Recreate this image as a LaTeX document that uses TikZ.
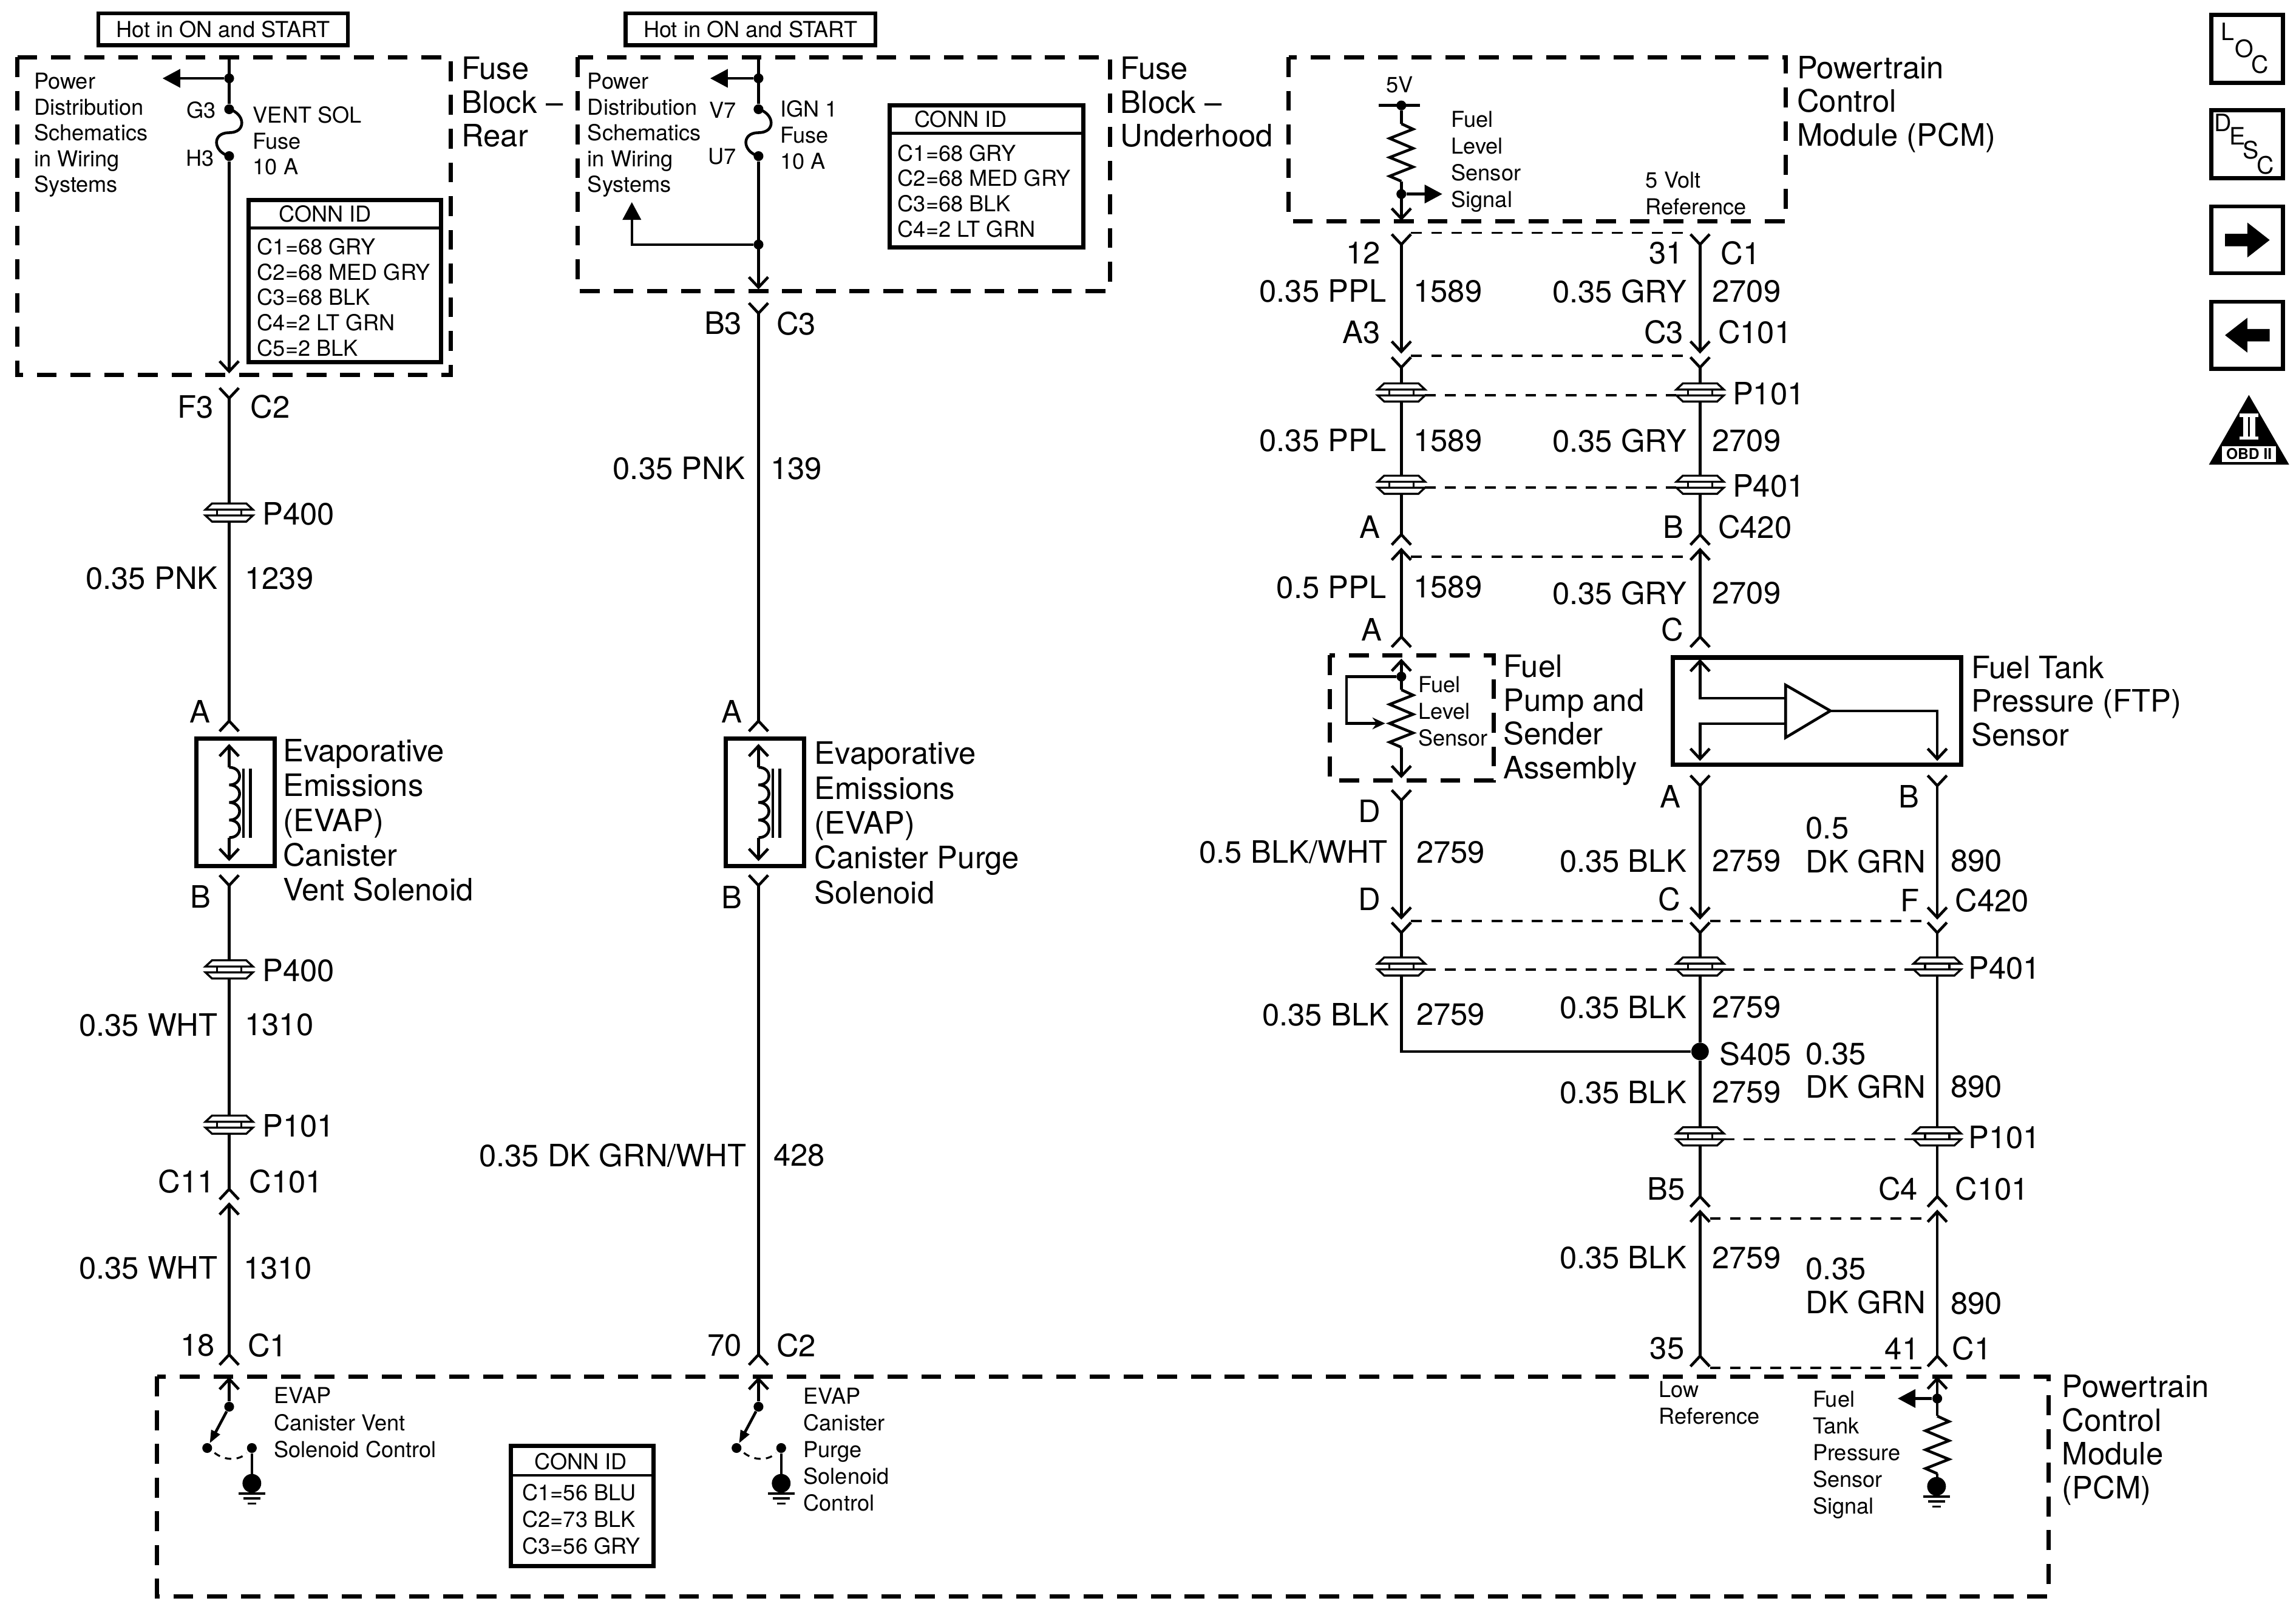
\documentclass[tikz,border=0pt]{standalone}
\usepackage{fontspec}
\setmainfont{TeX Gyre Heros}
\usetikzlibrary{arrows.meta}
\tikzset{
    barb/.tip={Straight Barb[length=4.8pt,width=9pt]},
    sock/.tip={Straight Barb[length=4.8pt,width=9pt,reversed]},
    head/.tip={Triangle[length=8.3pt,width=8.5pt]},
    wire/.style={line width=1.3pt},
    hvy/.style={line width=2pt},
    dashbox/.style={line width=2pt,dash pattern=on 9.3pt off 6.5pt},
    link/.style={line width=1pt,dash pattern=on 5.1pt off 4.3pt},
    dot/.style={circle,fill=black,inner sep=0pt,minimum size=4.6pt},
    txtbig/.style={font=\fontsize{14.45}{16.3}\selectfont,inner sep=0pt,align=left},
    txtsmall/.style={font=\fontsize{10.3}{12.1}\selectfont,inner sep=0pt,align=left},
    lbl/.style={txtbig,anchor=east,yshift=-0.6pt},
    lbr/.style={txtbig,anchor=west,yshift=-0.6pt},
    blk/.style={txtbig,anchor=north west},
    blkb/.style={blk,font=\fontsize{14.45}{15.8}\selectfont},
    sml/.style={txtsmall,anchor=north west},
    smlb/.style={sml,font=\fontsize{10.3}{12.55}\selectfont},
    conn/.style={sml,font=\fontsize{10.3}{11.85}\selectfont},
    letter/.style={inner sep=0pt,font=\fontsize{11.2}{12}\selectfont},
    hotbox/.style={txtsmall,draw,line width=1.8pt,minimum width=117pt,minimum height=15pt},
    splice/.pic={
        \draw[line width=0.95pt] (-11.7,-6.2) -- (11.7,-6.2) -- (16.2,-2) -- (-16.2,-2) -- cycle;
        \draw[line width=0.95pt] (-11.7,6.2) -- (11.7,6.2) -- (16.2,2) -- (-16.2,2) -- cycle;
        \draw[line width=0.95pt] (-8.3,-2) -- (-8.3,2) (8.3,-2) -- (8.3,2);
        \coordinate (-top) at (0,-6.2);
        \coordinate (-bot) at (0,6.2);
        \coordinate (-l) at (-16.2,2);
        \coordinate (-r) at (16.2,2);
    },
    fuse/.pic={
        \node[dot] (-top) at (0,0) {};
        \node[dot] (-bot) at (0,32) {};
        \draw[wire] (0,0) .. controls (11,3) and (12,16) .. (0,16) .. controls (-12,16) and (-11,29) .. (0,32);
    },
    zig/.pic={
        \draw[wire] (0,0) -- (8,3.7) -- (-8,10) -- (8,16.8) -- (-8,23) -- (8,29.5) -- (-8,35.8) -- (0,39.3);
        \coordinate (-top) at (0,0);
        \coordinate (-bot) at (0,39.3);
    },
    coil/.pic={
        \draw[wire,barb-] (0,-16) -- (0,0);
        \draw[wire] (0,0) .. controls (9.5,0) and (9.5,12) .. (0,12) .. controls (9.5,12) and (9.5,24) .. (0,24)
            .. controls (9.5,24) and (9.5,36) .. (0,36) .. controls (9.5,36) and (9.5,48) .. (0,48);
        \draw[wire,-barb] (0,48) -- (0,64);
        \draw[wire] (9.8,0.8) -- (9.8,48) (14.5,0.8) -- (14.5,48);
    },
    gnd/.pic={
        \fill (0,0) ellipse[x radius=6.4,y radius=6.4];
        \draw[line width=1pt] (-9,7) -- (9,7) (-5.7,10.3) -- (5.7,10.3) (-2.8,13.8) -- (2.8,13.8);
    },
    swgnd/.pic={
        \node[dot] (-top) at (0,0) {};
        \node[dot] (-off) at (-15,28.2) {};
        \node[dot] (-on) at (15.5,28.2) {};
        \draw[wire,-{Triangle[length=6pt,width=4.4pt]}] (-top) -- (-off);
        \draw[line width=0.9pt,dash pattern=on 3pt off 2.5pt] (-10,31.5) .. controls (-3,37) and (7,37) .. (12,31.5);
        \draw[wire] (-on) -- (15.5,46);
        \pic at (15.5,52.3) {gnd};
    },
}
\begin{document}
\begin{tikzpicture}[x=0.02412cm,y=-0.02412cm]
    \def\xa{156.5}
    \def\xb{518}
    \def\xc{957}
    \def\xd{1161}
    \def\xe{1323}
    \useasboundingbox (0,0) rectangle (1568,1104.5);

% ձախ բլոկ
    \node[hotbox] (hotrear) at (152.3,20) {Hot in ON and START};
    \draw[dashbox] (12,39) rectangle (308,256);
    \coordinate (wa1) at (\xa,39);
    \coordinate (wa2) at (\xa,255);
    \node[dot] (ja) at (\xa,53.5) {};
    \coordinate (pwa) at (111,53.5);
    \pic (fa) at (\xa,74.6) {fuse};
    \draw[wire] (wa1) -- (fa-top);
    \draw[wire,-barb] (fa-bot) -- (wa2);
    \draw[wire,-head] (ja) -- (pwa);
    \node[sml] (tpwra) at (23,49.5) {Power\\Distribution\\Schematics\\in Wiring\\Systems};
    \node[txtsmall,anchor=east] (tg3) at (147.6,75) {G3};
    \node[txtsmall,anchor=east] (th3) at (146.5,108) {H3};
    \node[sml] (tvent) at (172.5,72.5) {VENT SOL\\Fuse\\10 A};
    \draw[hvy] (169.6,136.6) rectangle (301,247.5);
    \draw[wire] (169.6,155.7) -- (301,155.7);
    \node[txtsmall] (tconna) at (222,146) {CONN ID};
    \node[conn] (tlista) at (175.4,162.5) {C1=68 GRY\\C2=68 MED GRY\\C3=68 BLK\\C4=2 LT GRN\\C5=2 BLK};
    \node[blkb] (tfbr) at (315,38.6) {Fuse\\Block –\\Rear};

    \coordinate (wa3) at (\xa,264);
    \coordinate (wa4) at (\xa,500.3);
    \coordinate (wa5) at (\xa,596.7);
    \coordinate (wa6) at (\xa,820);
    \coordinate (wa7) at (\xa,821);
    \coordinate (wa8) at (\xa,933);
    \pic (spa1) at (\xa,350) {splice};
    \pic (spa2) at (\xa,662) {splice};
    \pic (spa3) at (\xa,768) {splice};
    \draw[wire,sock-] (wa3) -- (spa1-top);
    \draw[wire,-sock] (spa1-bot) -- (wa4);
    \draw[hvy] (134,504.5) rectangle (187.7,591.5);
    \pic (cola) at (\xa,524) {coil};
    \draw[wire,sock-] (wa5) -- (spa2-top);
    \draw[wire] (spa2-bot) -- (spa3-top);
    \draw[wire,-sock] (spa3-bot) -- (wa6);
    \draw[wire,barb-sock] (wa7) -- (wa8);
    \node[lbl] (tf3) at (146,277) {F3};
    \node[lbr] (tc2a) at (170.8,277) {C2};
    \node[lbr] (tp400a) at (179,350) {P400};
    \node[lbl] (tpnka) at (149,394) {0.35 PNK};
    \node[lbr] (t1239) at (167,394) {1239};
    \node[lbl] (taa) at (144,485) {A};
    \node[blk] (tsola) at (193,504.5) {Evaporative\\Emissions\\(EVAP)\\Canister\\Vent Solenoid};
    \node[lbl] (tba) at (144.4,611.5) {B};
    \node[lbr] (tp400b) at (179,662) {P400};
    \node[lbl] (twhta) at (149,699) {0.35 WHT};
    \node[lbr] (t1310a) at (167,699) {1310};
    \node[lbr] (tp101a) at (179,768) {P101};
    \node[lbl] (tc11) at (147,806) {C11};
    \node[lbr] (tc101a) at (170,806) {C101};
    \node[lbl] (twhtb) at (149,865) {0.35 WHT};
    \node[lbr] (t1310b) at (166,865) {1310};
    \node[lbl] (t18) at (147,918) {18};
    \node[lbr] (tc1a) at (169,918) {C1};

% միջին բլոկ
    \node[hotbox] (hotund) at (512.5,20) {Hot in ON and START};
    \draw[dashbox] (394.6,39) rectangle (758,198.7);
    \coordinate (wb1) at (\xb,39);
    \coordinate (wb2) at (\xb,197.6);
    \node[dot] (jb) at (\xb,53.5) {};
    \node[dot] (jc) at (\xb,167) {};
    \coordinate (pwb) at (485,53.5);
    \coordinate (pwc) at (431.5,167);
    \coordinate (pwd) at (431.5,138);
    \pic (fb) at (\xb,74.6) {fuse};
    \draw[wire] (wb1) -- (fb-top);
    \draw[wire,-barb] (fb-bot) -- (wb2);
    \draw[wire,-head] (jb) -- (pwb);
    \draw[wire,-head] (jc) -- (pwc) -- (pwd);
    \node[sml] (tpwrb) at (401,49.5) {Power\\Distribution\\Schematics\\in Wiring\\Systems};
    \node[txtsmall,anchor=east] (tv7) at (503,75) {V7};
    \node[txtsmall,anchor=east] (tu7) at (503,107) {U7};
    \node[sml] (tign) at (532.6,68.5) {IGN 1\\Fuse\\10 A};
    \draw[hvy] (607.5,71.9) rectangle (740,169);
    \draw[wire] (607.5,90.9) -- (740,90.9);
    \node[txtsmall] (tconnb) at (656,81.5) {CONN ID};
    \node[conn] (tlistb) at (612.8,98.5) {C1=68 GRY\\C2=68 MED GRY\\C3=68 BLK\\C4=2 LT GRN};
    \node[blkb] (tfbu) at (765,38.6) {Fuse\\Block –\\Underhood};

    \coordinate (wb3) at (\xb,206);
    \coordinate (wb4) at (\xb,500.3);
    \coordinate (wb5) at (\xb,596.7);
    \coordinate (wb6) at (\xb,933);
    \draw[wire,sock-sock] (wb3) -- (wb4);
    \draw[hvy] (495.5,504.5) rectangle (549.2,591.5);
    \pic (colb) at (\xb,524) {coil};
    \draw[wire,sock-sock] (wb5) -- (wb6);
    \node[lbl] (tb3) at (507,220) {B3};
    \node[lbr] (tc3a) at (530,220) {C3};
    \node[lbl] (tpnkb) at (509,319) {0.35 PNK};
    \node[lbr] (t139) at (526,319) {139};
    \node[lbl] (tab) at (507,485) {A};
    \node[blk] (tsolb) at (556,506.3) {Evaporative\\Emissions\\(EVAP)\\Canister Purge\\Solenoid};
    \node[lbl] (tbb) at (507,612) {B};
    \node[lbl] (tgrnwht) at (510,788) {0.35 DK GRN/WHT};
    \node[lbr] (t428) at (528,788) {428};
    \node[lbl] (t70) at (507,918) {70};
    \node[lbr] (tc2b) at (530,918) {C2};

% PCM վերև
    \draw[dashbox] (880,39) rectangle (1219.4,151.2);
    \coordinate (bara) at (941.7,72);
    \coordinate (barb) at (969.6,72);
    \node[dot] (jd) at (\xc,72) {};
    \node[dot] (je) at (\xc,132.5) {};
    \coordinate (pwe) at (985,132.5);
    \coordinate (wc0) at (\xc,150.7);
    \pic (zc) at (\xc,84.5) {zig};
    \draw[wire] (bara) -- (barb);
    \draw[wire] (jd) -- (zc-top);
    \draw[wire,-barb] (zc-bot) -- (wc0);
    \draw[wire,-head] (je) -- (pwe);
    \node[txtsmall] (t5v) at (956,58) {5V};
    \node[smlb] (tsig) at (990.8,75.6) {Fuel\\Level\\Sensor\\Signal};
    \node[smlb] (tvref) at (1123.6,117) {5 Volt\\Reference};
    \node[blkb] (tpcma) at (1227,38) {Powertrain\\Control\\Module (PCM)};

% աջ հաղորդալարեր
    \coordinate (wc1) at (\xc,159);
    \coordinate (wc2) at (\xc,241.5);
    \coordinate (wc3) at (\xc,243);
    \coordinate (wc4) at (\xc,373);
    \coordinate (wc5) at (\xc,374);
    \coordinate (wc6) at (\xc,442.8);
    \coordinate (wc7) at (\xc,449.8);
    \coordinate (wc8) at (\xc,531.4);
    \coordinate (wc9) at (\xc,538.6);
    \coordinate (wc10) at (\xc,628);
    \coordinate (wc11) at (\xc,629);
    \coordinate (wc12) at (\xc,718);
    \coordinate (wd1) at (\xd,159);
    \coordinate (wd2) at (\xd,241.5);
    \coordinate (wd3) at (\xd,243);
    \coordinate (wd4) at (\xd,373);
    \coordinate (wd5) at (\xd,374);
    \coordinate (wd6) at (\xd,442.8);
    \coordinate (wd9) at (\xd,528.6);
    \coordinate (wd10) at (\xd,628);
    \coordinate (wd11) at (\xd,629);
    \coordinate (wd12) at (\xd,825);
    \coordinate (wd13) at (\xd,826);
    \coordinate (wd14) at (\xd,934);
    \coordinate (we9) at (\xe,528.6);
    \coordinate (we10) at (\xe,628);
    \coordinate (we11) at (\xe,629);
    \coordinate (we12) at (\xe,825);
    \coordinate (we13) at (\xe,826);
    \coordinate (we14) at (\xe,934);
    \pic (spc1) at (\xc,268) {splice};
    \pic (spc2) at (\xc,331) {splice};
    \pic (spc3) at (\xc,660) {splice};
    \pic (spd1) at (\xd,268) {splice};
    \pic (spd2) at (\xd,331) {splice};
    \pic (spd3) at (\xd,660) {splice};
    \pic (spd4) at (\xd,776) {splice};
    \pic (spe1) at (\xe,660) {splice};
    \pic (spe2) at (\xe,776) {splice};
    \node[dot,minimum size=8.2pt] (s405) at (\xd,718) {};
    % սյուն c
    \draw[wire,sock-barb] (wc1) -- (wc2);
    \draw[wire,sock-] (wc3) -- (spc1-top);
    \draw[wire] (spc1-bot) -- (spc2-top);
    \draw[wire,-sock] (spc2-bot) -- (wc4);
    \draw[wire,barb-sock] (wc5) -- (wc6);
    \draw[wire,sock-barb] (wc9) -- (wc10);
    \draw[wire,sock-] (wc11) -- (spc3-top);
    \draw[wire] (spc3-bot) -- (wc12) -- (s405);
    % սյուն d
    \draw[wire,sock-barb] (wd1) -- (wd2);
    \draw[wire,sock-] (wd3) -- (spd1-top);
    \draw[wire] (spd1-bot) -- (spd2-top);
    \draw[wire,-sock] (spd2-bot) -- (wd4);
    \draw[wire,barb-sock] (wd5) -- (wd6);
    \draw[wire,sock-barb] (wd9) -- (wd10);
    \draw[wire,sock-] (wd11) -- (spd3-top);
    \draw[wire] (spd3-bot) -- (s405);
    \draw[wire] (s405) -- (spd4-top);
    \draw[wire,-sock] (spd4-bot) -- (wd12);
    \draw[wire,barb-sock] (wd13) -- (wd14);
    % սյուն e
    \draw[wire,sock-barb] (we9) -- (we10);
    \draw[wire,sock-] (we11) -- (spe1-top);
    \draw[wire] (spe1-bot) -- (spe2-top);
    \draw[wire,-sock] (spe2-bot) -- (we12);
    \draw[wire,barb-sock] (we13) -- (we14);
    % կետագծեր
    \draw[link] ([xshift=4.6pt]wc1) -- ([xshift=-4.6pt]wd1);
    \draw[link] ([xshift=4.6pt]wc3) -- ([xshift=-4.6pt]wd3);
    \draw[link] (spc1-r) -- (spd1-l);
    \draw[link] (spc2-r) -- (spd2-l);
    \draw[link] ([shift={(4.6pt,-4.2pt)}]wc5) -- ([shift={(-4.6pt,-4.2pt)}]wd5);
    \draw[link] ([xshift=4.6pt]wc11) -- ([xshift=-4.6pt]wd11);
    \draw[link] ([xshift=4.6pt]wd11) -- ([xshift=-4.6pt]we11);
    \draw[link] (spc3-r) -- (spd3-l);
    \draw[link] (spd3-r) -- (spe1-l);
    \draw[link] (spd4-r) -- (spe2-l);
    \draw[link] ([shift={(4.6pt,-4.2pt)}]wd13) -- ([shift={(-4.6pt,-4.2pt)}]we13);
    \draw[link] ([xshift=4.6pt]wd14) -- ([xshift=-4.6pt]we14);

% վառելիքի մակարդակի տվիչ
    \draw[dashbox] (908,447.5) rectangle (1020,533);
    \node[dot] (jf) at (\xc,462) {};
    \coordinate (rla) at (919.6,462);
    \coordinate (rlb) at (919.6,494);
    \coordinate (rlc) at (946,494);
    \pic (zd) at (\xc,471) {zig};
    \draw[wire,barb-] (wc7) -- (zd-top);
    \draw[wire,-barb] (zd-bot) -- (wc8);
    \draw[wire,-{Stealth[length=6pt,width=5.5pt]}] (jf) -- (rla) -- (rlb) -- (rlc);
    \node[smlb] (tfls) at (968.3,461.5) {Fuel\\Level\\Sensor};
    \node[blkb] (tpump) at (1026.5,447) {Fuel\\Pump and\\Sender\\Assembly};

% FTP տվիչ
    \draw[hvy] (1142.5,449) rectangle (1339.5,522);
    \coordinate (wd7) at (\xd,450);
    \coordinate (wd7b) at (\xd,476.8);
    \coordinate (ampa) at (1219.4,467.8);
    \coordinate (ampb) at (1219.4,503.7);
    \coordinate (ampo) at (1250,485.4);
    \coordinate (ampi) at (1219.4,476.8);
    \coordinate (ampj) at (1219.4,494.2);
    \coordinate (wd8b) at (\xd,494.2);
    \coordinate (wd8) at (\xd,519.6);
    \coordinate (we7) at (\xe,485.4);
    \coordinate (we8) at (\xe,519.6);
    \draw[wire] (ampa) -- (ampo) -- (ampb) -- cycle;
    \draw[wire,barb-] (wd7) -- (wd7b) -- (ampi);
    \draw[wire,-barb] (ampj) -- (wd8b) -- (wd8);
    \draw[wire,-barb] (ampo) -- (we7) -- (we8);
    \node[blkb] (tftp) at (1346,447.6) {Fuel Tank\\Pressure (FTP)\\Sensor};

% աջ պիտակներ
    \node[lbl] (t12) at (943,172) {12};
    \node[lbl] (t31) at (1150,172) {31};
    \node[lbr] (tc1b) at (1175,172) {C1};
    \node[lbl] (tppla) at (947,198) {0.35 PPL};
    \node[lbr] (t1589a) at (965,198) {1589};
    \node[lbl] (tgrya) at (1152,198) {0.35 GRY};
    \node[lbr] (t2709a) at (1169,198) {2709};
    \node[lbl] (ta3) at (943,226) {A3};
    \node[lbl] (tc3b) at (1150,226) {C3};
    \node[lbr] (tc101b) at (1173,226) {C101};
    \node[lbr] (tp101b) at (1183,268) {P101};
    \node[lbl] (tpplb) at (947,300) {0.35 PPL};
    \node[lbr] (t1589b) at (965,300) {1589};
    \node[lbl] (tgryb) at (1152,300) {0.35 GRY};
    \node[lbr] (t2709b) at (1169,300) {2709};
    \node[lbr] (tp401a) at (1183,331) {P401};
    \node[lbl] (tac) at (943,359) {A};
    \node[lbl] (tbc) at (1150,359) {B};
    \node[lbr] (tc420a) at (1173,359) {C420};
    \node[lbl] (tpplc) at (947,400) {0.5 PPL};
    \node[lbr] (t1589c) at (965,400) {1589};
    \node[lbl] (tgryc) at (1152,404) {0.35 GRY};
    \node[lbr] (t2709c) at (1169,404) {2709};
    \node[lbl] (tad) at (944,429) {A};
    \node[lbl] (tcc) at (1150,429) {C};
    \node[lbl] (tda) at (943,553) {D};
    \node[lbl] (tae) at (1148,543) {A};
    \node[lbl] (tbd) at (1311,543) {B};
    \node[lbl] (tbwht) at (948,581) {0.5 BLK/WHT};
    \node[lbr] (t2759a) at (967,581) {2759};
    \node[lbl] (tblka) at (1152,587) {0.35 BLK};
    \node[lbr] (t2759b) at (1169,587) {2759};
    \node[blkb] (tdga) at (1233,557.6) {0.5\\DK GRN};
    \node[lbr] (t890a) at (1332,587) {890};
    \node[lbl] (tdb) at (943,613) {D};
    \node[lbl] (tcd) at (1148,613) {C};
    \node[lbl] (tf) at (1311,614) {F};
    \node[lbr] (tc420b) at (1335,614) {C420};
    \node[lbr] (tp401b) at (1344,660) {P401};
    \node[lbl] (tblkb) at (949,692) {0.35 BLK};
    \node[lbr] (t2759c) at (967,692) {2759};
    \node[lbl] (tblkc) at (1152,687) {0.35 BLK};
    \node[lbr] (t2759d) at (1169,687) {2759};
    \node[lbr] (ts405) at (1174,719) {S405};
    \node[blkb] (tdgb) at (1233,711.6) {0.35\\DK GRN};
    \node[lbr] (t890b) at (1332,741) {890};
    \node[lbl] (tblkd) at (1152,745) {0.35 BLK};
    \node[lbr] (t2759e) at (1169,745) {2759};
    \node[lbr] (tp101c) at (1344,776) {P101};
    \node[lbl] (tb5) at (1151,811) {B5};
    \node[lbl] (tc4) at (1310,811) {C4};
    \node[lbr] (tc101c) at (1335,811) {C101};
    \node[lbl] (tblke) at (1152,858) {0.35 BLK};
    \node[lbr] (t2759f) at (1169,858) {2759};
    \node[blkb] (tdgc) at (1233,858.6) {0.35\\DK GRN};
    \node[lbr] (t890c) at (1332,889) {890};
    \node[lbl] (t35) at (1150.5,920) {35};
    \node[lbl] (t41) at (1311,920) {41};
    \node[lbr] (tc1c) at (1333,920) {C1};

% PCM ներքև
    \draw[dashbox] (107.3,940) rectangle (1399,1090);
    \coordinate (wa9) at (\xa,940.3);
    \coordinate (wb9) at (\xb,940.3);
    \coordinate (we15) at (\xe,940);
    \pic (swa) at (\xa,960.6) {swgnd};
    \pic (swb) at (\xb,960.6) {swgnd};
    \draw[wire,barb-] (wa9) -- (swa-top);
    \draw[wire,barb-] (wb9) -- (swb-top);
    \node[dot] (jg) at (\xe,955) {};
    \coordinate (pwf) at (1296,955);
    \coordinate (gre) at (\xe,1010);
    \pic (ze) at (\xe,967) {zig};
    \pic at (1322.5,1015) {gnd};
    \draw[wire,barb-] (we15) -- (ze-top);
    \draw[wire] (ze-bot) -- (gre);
    \draw[wire,-head] (jg) -- (pwf);
    \node[smlb] (tevapa) at (186.8,947.3) {EVAP\\Canister Vent\\Solenoid Control};
    \node[smlb] (tevapb) at (548.5,947.3) {EVAP\\Canister\\Purge\\Solenoid\\Control};
    \draw[hvy] (349,987.4) rectangle (446.4,1069.5);
    \draw[wire] (349,1007.5) -- (446.4,1007.5);
    \node[txtsmall] (tconnc) at (396.6,998) {CONN ID};
    \node[smlb] (tlistc) at (356.5,1013.2) {C1=56 BLU\\C2=73 BLK\\C3=56 GRY};
    \node[smlb] (tlow) at (1132.7,943) {Low\\Reference};
    \node[smlb] (tftps) at (1237.7,949.6) {Fuel\\Tank\\Pressure\\Sensor\\Signal};
    \node[blkb] (tpcmb) at (1408,938.6) {Powertrain\\Control\\Module\\(PCM)};

% նշաններ աջից
    \draw[line width=1.9pt] (1510.2,10.1) rectangle (1559,56.6);
    \draw[line width=1.9pt] (1510.2,75.2) rectangle (1559,121.6);
    \draw[line width=1.9pt] (1510.2,141) rectangle (1559,186.6);
    \draw[line width=1.9pt] (1510.2,206) rectangle (1559,252);
    \node[letter] (tl) at (1521.4,21.7) {L};
    \node[letter] (to) at (1532.7,33.4) {O};
    \node[letter] (tca) at (1543.3,44) {C};
    \node[letter] (td) at (1518.2,83.9) {D};
    \node[letter] (te) at (1528,92.9) {E};
    \node[letter] (ts) at (1537,102.5) {S};
    \node[letter] (tcb) at (1547,112.9) {C};
    \fill (1519.5,159.7) -- (1534.8,159.7) -- (1534.8,152) -- (1550,163.9) -- (1534.8,175.8) -- (1534.8,168.2) -- (1519.5,168.2) -- cycle;
    \fill (1550,224.7) -- (1534.8,224.7) -- (1534.8,217) -- (1519.5,228.9) -- (1534.8,240.8) -- (1534.8,233.2) -- (1550,233.2) -- cycle;
    \fill (1535.8,269.7) -- (1563.3,317.3) -- (1508.5,317.3) -- cycle;
    \fill[white] (1529.6,282.4) rectangle (1542.3,285);
    \fill[white] (1532,285) rectangle (1535.4,298);
    \fill[white] (1536.5,285) rectangle (1540,298);
    \fill[white] (1529.6,298) rectangle (1542.3,300.3);
    \node[fill=white,inner sep=0pt,minimum width=25.2pt,minimum height=7.5pt,font=\fontsize{7}{8}\selectfont\bfseries] (tobd) at (1535.9,310) {OBD II};
\end{tikzpicture}
\end{document}
